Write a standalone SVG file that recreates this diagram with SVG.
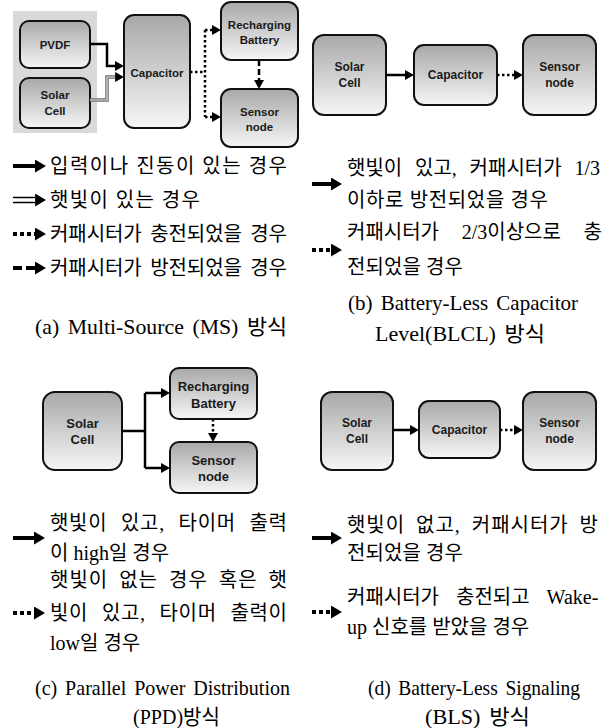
<svg xmlns="http://www.w3.org/2000/svg" width="611" height="728" viewBox="0 0 611 728">
<defs>
<linearGradient id="g" x1="0" y1="0" x2="0" y2="1">
<stop offset="0" stop-color="#a8a8a8"/>
<stop offset="1" stop-color="#f6f6f6"/>
</linearGradient>
<marker id="h" markerUnits="userSpaceOnUse" markerWidth="9" markerHeight="10" refX="0" refY="5" orient="auto" viewBox="0 0 9 10"><path d="M0,0 L9,5 L0,10z" fill="#000"/></marker>
<marker id="H" markerUnits="userSpaceOnUse" markerWidth="11" markerHeight="13" refX="0" refY="6.5" orient="auto" viewBox="0 0 11 13"><path d="M0,0 L11,6.5 L0,13z" fill="#000"/></marker>
<style>
.box{fill:url(#g);stroke:#111;stroke-width:2}
.n{font-family:"Liberation Sans",Arial,sans-serif;font-weight:bold;font-size:12px;text-anchor:middle;fill:#1a1a1a}
.na{font-size:11.5px}
.n13{font-size:13px}
.c{fill:none;stroke:#000;stroke-width:2.5}
.dot{stroke-dasharray:2.5 2.5}
.dash{stroke-dasharray:6 3}
.lg{fill:none;stroke:#000;stroke-width:4}
.t{font-family:"Liberation Serif","Noto Sans CJK KR",serif;font-size:20px;fill:#000}
.cap{font-family:"Liberation Serif","Noto Sans CJK KR",serif;font-size:21px;word-spacing:3px;fill:#000}
</style>
</defs>

<rect x="13" y="11" width="84" height="122" fill="#d9d9d9"/>

<g id="a-pvdf"><rect class="box" x="20" y="21" width="70" height="47" rx="9"/><text class="n na" x="55" y="49">PVDF</text></g>
<g id="a-solar"><rect class="box" x="20" y="78" width="70" height="50" rx="9"/><text class="n na" x="55" y="99">Solar</text><text class="n na" x="55" y="115">Cell</text></g>
<g id="a-cap"><rect class="box" x="124" y="15" width="66" height="113" rx="10"/><text class="n na" x="157" y="77">Capacitor</text></g>
<g id="a-bat"><rect class="box" x="221" y="2" width="77" height="58" rx="10"/><text class="n na" x="259.5" y="29">Recharging</text><text class="n na" x="259.5" y="44">Battery</text></g>
<g id="a-sn"><rect class="box" x="221" y="89" width="77" height="58" rx="10"/><text class="n na" x="259.5" y="116">Sensor</text><text class="n na" x="259.5" y="131">node</text></g>

<g id="b-solar"><rect class="box" x="313" y="35" width="73" height="80" rx="11"/><text class="n" x="349.5" y="71">Solar</text><text class="n" x="349.5" y="87">Cell</text></g>
<g id="b-cap"><rect class="box" x="414" y="45" width="83" height="60" rx="10"/><text class="n" x="455.5" y="79">Capacitor</text></g>
<g id="b-sn"><rect class="box" x="523" y="35" width="73" height="80" rx="11"/><text class="n" x="559.5" y="71">Sensor</text><text class="n" x="559.5" y="87">node</text></g>

<g id="c-solar"><rect class="box" x="43" y="392" width="79" height="78" rx="12"/><text class="n n13" x="82.5" y="428">Solar</text><text class="n n13" x="82.5" y="444">Cell</text></g>
<g id="c-bat"><rect class="box" x="170" y="368" width="87" height="51" rx="9"/><text class="n n13" x="213.5" y="391">Recharging</text><text class="n n13" x="213.5" y="408">Battery</text></g>
<g id="c-sn"><rect class="box" x="170" y="442" width="87" height="51" rx="9"/><text class="n n13" x="213.5" y="465">Sensor</text><text class="n n13" x="213.5" y="481">node</text></g>

<g id="d-solar"><rect class="box" x="321" y="392" width="72" height="78" rx="11"/><text class="n" x="357" y="427">Solar</text><text class="n" x="357" y="443">Cell</text></g>
<g id="d-cap"><rect class="box" x="419" y="401" width="81" height="57" rx="10"/><text class="n" x="459.5" y="434">Capacitor</text></g>
<g id="d-sn"><rect class="box" x="523" y="392" width="73" height="78" rx="11"/><text class="n" x="559.5" y="427">Sensor</text><text class="n" x="559.5" y="443">node</text></g>

<g id="connectors">
<path class="c" d="M90,44 H107 V66 H115" marker-end="url(#h)"/>
<path d="M90,100 H107 V77 H115" fill="none" stroke="#6e6e6e" stroke-width="3.5"/>
<path d="M90,100 H107 V77 H115" fill="none" stroke="#e0e0e0" stroke-width="1.2"/>
<path d="M115,77 H115.1" fill="none" stroke="none" marker-end="url(#h)"/>
<path class="c dot" d="M190,72 H205"/>
<path class="c dot" d="M205,30 V117"/>
<path class="c dot" d="M205,30 H212" marker-end="url(#h)"/>
<path class="c dot" d="M205,117 H212" marker-end="url(#h)"/>
<path class="c dash" d="M259,60 V80" marker-end="url(#h)"/>

<path class="c" d="M386,75 H405" marker-end="url(#h)"/>
<path class="c dot" d="M497,75 H514" marker-end="url(#h)"/>

<path class="c" d="M122,431 H145"/>
<path class="c" d="M145,393 V468"/>
<path class="c" d="M145,393 H161" marker-end="url(#h)"/>
<path class="c" d="M145,468 H161" marker-end="url(#h)"/>
<path class="c dot" d="M213,419 V433" marker-end="url(#h)"/>

<path class="c" d="M393,430 H410" marker-end="url(#h)"/>
<path class="c dot" d="M500,430 H514" marker-end="url(#h)"/>
</g>

<g id="legend-a">
<path class="lg" d="M13,166 H35" marker-end="url(#H)"/>
<path d="M13,197.5 H35 M13,202.5 H35" fill="none" stroke="#000" stroke-width="1.6"/>
<path d="M35,200 H35.1" stroke="none" marker-end="url(#H)"/>
<path class="lg" d="M13,234 H35" stroke-dasharray="4 3" marker-end="url(#H)"/>
<path class="lg" d="M13,268 H35" stroke-dasharray="9 4" marker-end="url(#H)"/>
<text class="t" x="50" y="173" textLength="237" lengthAdjust="spacing">입력이나 진동이 있는 경우</text>
<text class="t" x="50" y="207" textLength="150" lengthAdjust="spacing">햇빛이 있는 경우</text>
<text class="t" x="50" y="241" word-spacing="3.5" textLength="237" lengthAdjust="spacing">커패시터가 충전되었을 경우</text>
<text class="t" x="50" y="275" word-spacing="3.5" textLength="237" lengthAdjust="spacing">커패시터가 방전되었을 경우</text>
<text class="cap" x="35" y="334" textLength="252" lengthAdjust="spacingAndGlyphs">(a) Multi-Source (MS) 방식</text>
</g>

<g id="legend-b">
<path class="lg" d="M312,184 H331" marker-end="url(#H)"/>
<path class="lg" d="M312,250 H331" stroke-dasharray="4 3" marker-end="url(#H)"/>
<text class="t" x="347" y="175" word-spacing="7.8">햇빛이 있고, 커패시터가 1/3</text>
<text class="t" x="347" y="207" textLength="201" lengthAdjust="spacing">이하로 방전되었을 경우</text>
<text class="t" x="347" y="239" word-spacing="17.7">커패시터가 2/3이상으로 충</text>
<text class="t" x="347" y="274" textLength="116" lengthAdjust="spacing">전되었을 경우</text>
<text class="cap" x="348" y="310" textLength="230" lengthAdjust="spacingAndGlyphs">(b) Battery-Less Capacitor</text>
<text class="cap" x="375" y="341" textLength="170" lengthAdjust="spacingAndGlyphs">Level(BLCL) 방식</text>
</g>

<g id="legend-c">
<path class="lg" d="M13,538 H34" marker-end="url(#H)"/>
<path class="lg" d="M13,613 H34" stroke-dasharray="4 3" marker-end="url(#H)"/>
<text class="t" x="50" y="530" word-spacing="8" textLength="237" lengthAdjust="spacing">햇빛이 있고, 타이머 출력</text>
<text class="t" x="50" y="560">이 high일 경우</text>
<text class="t" x="50" y="587" word-spacing="5" textLength="237" lengthAdjust="spacing">햇빛이 없는 경우 혹은 햇</text>
<text class="t" x="50" y="620" word-spacing="8" textLength="237" lengthAdjust="spacing">빛이 있고, 타이머 출력이</text>
<text class="t" x="50" y="650">low일 경우</text>
<text class="cap" x="35" y="695" textLength="255" lengthAdjust="spacingAndGlyphs">(c) Parallel Power Distribution</text>
<text class="cap" x="133" y="724" textLength="87" lengthAdjust="spacingAndGlyphs">(PPD)방식</text>
</g>

<g id="legend-d">
<path class="lg" d="M312,538 H331" marker-end="url(#H)"/>
<path class="lg" d="M312,612 H331" stroke-dasharray="4 3" marker-end="url(#H)"/>
<text class="t" x="347" y="532" word-spacing="5" textLength="251" lengthAdjust="spacing">햇빛이 없고, 커패시터가 방</text>
<text class="t" x="347" y="560" textLength="116" lengthAdjust="spacing">전되었을 경우</text>
<text class="t" x="347" y="604" word-spacing="12">커패시터가 충전되고 Wake-</text>
<text class="t" x="347" y="634">up 신호를 받았을 경우</text>
<text class="cap" x="368" y="695" textLength="212" lengthAdjust="spacingAndGlyphs">(d) Battery-Less Signaling</text>
<text class="cap" x="425" y="724" textLength="105" lengthAdjust="spacingAndGlyphs">(BLS) 방식</text>
</g>
</svg>
